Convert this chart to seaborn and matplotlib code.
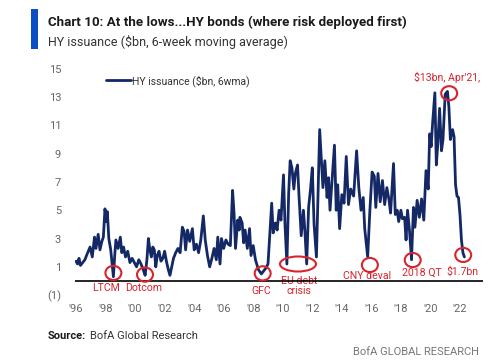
import matplotlib
matplotlib.use("Agg")
import matplotlib.pyplot as plt
from matplotlib import font_manager
from matplotlib.patches import Ellipse, Rectangle
import seaborn as sns
import pandas as pd

# ---------------- data ----------------
years = [
    1996.00, 1996.10, 1996.20, 1996.30, 1996.45, 1996.60, 1996.75, 1996.95,
    1997.10, 1997.25, 1997.35, 1997.50, 1997.62, 1997.75, 1997.85, 1997.96,
    1998.05, 1998.12, 1998.22, 1998.35, 1998.53, 1998.62, 1998.70, 1998.85,
    1999.00, 1999.10, 1999.22, 1999.35, 1999.50, 1999.65, 1999.80, 1999.95,
    2000.10, 2000.25, 2000.40, 2000.55, 2000.68, 2000.80, 2000.90, 2001.00,
    2001.10, 2001.20, 2001.30, 2001.40, 2001.50, 2001.62, 2001.75, 2001.88,
    2002.00, 2002.12, 2002.25, 2002.36, 2002.48, 2002.60, 2002.75, 2002.90,
    2003.05, 2003.20, 2003.32, 2003.42, 2003.55, 2003.70, 2003.88, 2004.00,
    2004.15, 2004.30, 2004.45, 2004.62, 2004.75, 2004.90, 2005.05, 2005.20,
    2005.35, 2005.50, 2005.60, 2005.75, 2005.85, 2006.00, 2006.15, 2006.30,
    2006.45, 2006.60, 2006.70, 2006.80, 2006.95, 2007.05, 2007.10, 2007.25,
    2007.35, 2007.45, 2007.60, 2007.75, 2007.85, 2008.00, 2008.15, 2008.35,
    2008.55, 2008.70, 2008.85, 2009.00, 2009.25, 2009.35, 2009.50, 2009.62,
    2009.75, 2009.88, 2010.05, 2010.15, 2010.28, 2010.40, 2010.50, 2010.62,
    2010.75, 2010.85, 2011.00, 2011.10, 2011.25, 2011.40, 2011.50, 2011.62,
    2011.75, 2011.88, 2012.00, 2012.12, 2012.28, 2012.50, 2012.62, 2012.72,
    2012.85, 2013.00, 2013.10, 2013.20, 2013.50, 2013.62, 2013.72, 2013.85,
    2014.00, 2014.15, 2014.30, 2014.45, 2014.60, 2014.80, 2015.00, 2015.15,
    2015.30, 2015.45, 2015.55, 2015.75, 2015.90, 2016.05, 2016.20, 2016.30,
    2016.45, 2016.60, 2016.75, 2016.90, 2017.05, 2017.20, 2017.30, 2017.50,
    2017.62, 2017.75, 2017.85, 2018.00, 2018.10, 2018.25, 2018.35, 2018.45,
    2018.58, 2018.72, 2018.85, 2018.95, 2019.10, 2019.25, 2019.40, 2019.55,
    2019.70, 2019.85, 2019.95, 2020.05, 2020.15, 2020.30, 2020.40, 2020.50,
    2020.62, 2020.75, 2020.85, 2021.00, 2021.15, 2021.25, 2021.35, 2021.50,
    2021.60, 2021.70, 2021.80, 2021.90, 2022.00, 2022.10, 2022.20, 2022.30,
]
hy_issuance = [
    1.4, 1.2, 1.6, 1.1, 1.3, 1.5, 1.9, 2.4,
    1.7, 3.1, 2.3, 3.3, 2.2, 2.8, 3.1, 5.1,
    4.2, 4.9, 3.0, 2.2, 0.3, 1.8, 2.9, 2.3,
    3.1, 2.0, 2.4, 1.7, 2.1, 1.3, 1.6, 1.3,
    1.0, 1.5, 1.2, 0.8, 0.4, 1.5, 3.0, 2.2,
    1.7, 2.4, 2.2, 1.0, 1.8, 2.1, 1.4, 1.6,
    2.1, 1.4, 0.8, 0.4, 1.0, 1.6, 2.0, 2.3,
    2.0, 3.8, 3.5, 2.2, 3.6, 2.8, 3.7, 2.2,
    2.6, 2.0, 2.9, 4.6, 2.9, 1.8, 1.0, 1.6,
    2.3, 1.5, 3.1, 1.2, 3.0, 2.3, 2.9, 2.6,
    2.5, 6.4, 4.8, 2.3, 4.3, 3.6, 4.5, 4.1,
    2.7, 3.6, 2.3, 3.7, 1.8, 2.5, 1.5, 0.8,
    0.5, 0.7, 0.9, 1.2, 5.5, 3.4, 4.1, 3.6,
    5.0, 4.3, 7.5, 4.0, 1.2, 6.2, 8.5, 8.0,
    6.5, 7.6, 8.2, 6.0, 3.2, 5.0, 3.5, 1.2,
    5.2, 6.5, 8.0, 4.0, 1.7, 10.7, 8.4, 6.6,
    8.5, 5.9, 7.3, 5.0, 9.6, 5.0, 6.8, 3.7,
    6.1, 5.5, 8.8, 5.4, 6.5, 6.0, 9.2, 6.6,
    5.0, 5.9, 3.7, 1.7, 5.0, 7.7, 7.4, 5.2,
    7.6, 5.6, 7.1, 5.4, 6.6, 5.7, 4.8, 8.3,
    4.7, 5.0, 4.2, 5.0, 4.4, 4.5, 2.9, 5.0,
    3.6, 1.5, 5.2, 3.8, 5.7, 4.5, 5.8, 4.3,
    7.8, 6.5, 10.4, 9.5, 11.2, 13.3, 8.2, 9.7,
    12.2, 9.2, 10.0, 13.2, 13.4, 12.3, 10.0, 10.7,
    10.2, 6.8, 6.0, 5.9, 4.7, 2.9, 2.0, 1.7,
]
series_label = "HY issuance ($bn, 6wma)"
x_ticks = [1996, 1998, 2000, 2002, 2004, 2006, 2008, 2010, 2012, 2014,
           2016, 2018, 2020, 2022]
x_tick_labels = ["'96", "'98", "'00", "'02", "'04", "'06", "'08", "'10",
                 "'12", "'14", "'16", "'18", "'20", "'22"]
y_ticks = [-1, 1, 3, 5, 7, 9, 11, 13, 15]
y_tick_labels = ["(1)", "1", "3", "5", "7", "9", "11", "13", "15"]

# annotations: (label, label_x, label_y, circle_x, circle_y, circle_w, circle_h)
events = [
    ("LTCM", 1998.03, -0.49, 1998.53, 0.57, 1.08, 1.0),
    ("Dotcom", 2000.60, -0.49, 2000.67, 0.45, 1.08, 1.0),
    ("GFC", 2008.57, -0.71, 2008.64, 0.54, 1.08, 1.0),
    ("EU debt\ncrisis", 2011.10, -0.37, 2011.03, 1.20, 2.44, 1.06),
    ("CNY deval", 2015.70, 0.37, 2015.90, 1.13, 1.08, 1.0),
    ("2018 QT", 2019.43, 0.57, 2018.80, 1.48, 1.08, 1.0),
    ("$1.7bn", 2022.20, 0.66, 2022.22, 1.84, 1.08, 1.0),
    ("$13bn, Apr'21,", 2021.10, 14.37, 2021.27, 13.27, 1.08, 1.0),
]

# ---------------- style ----------------
sns.set_theme(style="white")
names = {f.name for f in font_manager.fontManager.ttflist}
narrow = "Liberation Sans Narrow" if "Liberation Sans Narrow" in names else "Roboto"
plt.rcParams["font.family"] = [narrow, "DejaVu Sans"]

NAVY = "#142866"
RED = "#d9232d"
GRAY = "#666666"

W, H = 500, 363
fig = plt.figure(figsize=(W / 100, H / 100), dpi=100)
fig.patch.set_facecolor("white")

ax = fig.add_axes([75 / W, 1 - 302.2 / H, 408 / W, 240.5 / H])
df = pd.DataFrame({"year": years, "value": hy_issuance})
sns.lineplot(data=df, x="year", y="value", ax=ax, color=NAVY, lw=2.0,
             label=series_label, zorder=3)

ax.set_xlim(1995.93, 2023.56)
ax.set_ylim(-1.5, 15.5)
ax.axhline(0, color="black", lw=1.2, zorder=4)
for s in ax.spines.values():
    s.set_visible(False)
ax.set_xlabel("")
ax.set_ylabel("")
ax.set_xticks(x_ticks)
ax.set_xticklabels(x_tick_labels)
ax.set_yticks(y_ticks)
ax.set_yticklabels(y_tick_labels)
ax.tick_params(axis="both", length=0, labelsize=8, labelcolor=GRAY)
ax.tick_params(axis="y", pad=10)
ax.tick_params(axis="x", pad=1)
ax.grid(False)

leg = ax.legend(loc="center left", bbox_to_anchor=(0.065, 0.921), frameon=False,
                fontsize=7.5, handlelength=2.4, handletextpad=0.1,
                borderaxespad=0)
for t in leg.get_texts():
    t.set_color("#333333")

for lab, lx, ly, cx, cy, cw, chh in events:
    ax.add_patch(Ellipse((cx, cy), cw, chh, fill=False, edgecolor=RED, lw=1.5,
                         zorder=5))
    ax.text(lx, ly, lab, color=RED, fontsize=7.6, ha="center", va="center",
            linespacing=1.0, zorder=2)

# ---------------- header / footer ----------------
fig.add_artist(Rectangle((31 / W, 1 - 49.3 / H), 7 / W, 40 / H,
                         transform=fig.transFigure, color="#0a50c2", lw=0))

renderer = fig.canvas.get_renderer()


def fit_text(x, y, s, width_px, **kw):
    t = fig.text(x / W, 1 - y / H, s, va="center", ha="left", **kw)
    fs = t.get_fontsize()
    for _ in range(3):
        w = t.get_window_extent(renderer).width
        fs = fs * width_px / w
        t.set_fontsize(fs)
    return t


fit_text(48, 22.7, "Chart 10: At the lows...HY bonds (where risk deployed first)",
         360, fontsize=10, fontweight="bold", color="#1a1a1a")
fit_text(48, 42.3, "HY issuance ($bn, 6-week moving average)", 240,
         fontsize=9, color="#333333")
src = fig.text(48 / W, 1 - 336 / H, "Source:", fontsize=8, fontweight="bold",
               color="#1a1a1a", va="center", ha="left")
sw = src.get_window_extent(renderer).width
fig.text((48 + sw + 4) / W, 1 - 336 / H, "BofA Global Research", fontsize=8,
         color="#333333", va="center", ha="left")
fig.text(479 / W, 1 - 352 / H, "BofA GLOBAL RESEARCH", fontsize=8,
         color="#777777", va="center", ha="right")

fig.savefig("out.png", dpi=100, facecolor="white")
